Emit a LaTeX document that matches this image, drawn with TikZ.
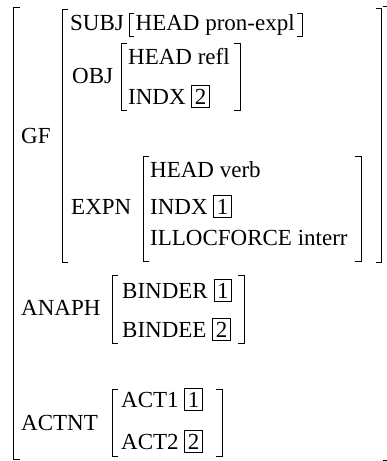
\documentclass[tikz,border=0pt]{standalone}
\usepackage{fontspec}
\setmainfont{Liberation Serif}
\newfontfamily\avmserif{Liberation Serif}
\newcommand\avmfont{\avmserif\fontsize{23}{27}\selectfont}
\setlength{\fboxsep}{2.6pt}
\setlength{\fboxrule}{0.9pt}
\tikzset{
  lbl/.style={anchor=base west, inner sep=0pt, font=\avmfont},
  brk/.style={line width=1pt, black}
}
\begin{document}
\begin{tikzpicture}[x=1pt,y=-1pt]
\useasboundingbox (0,0) rectangle (386,461);
% outer matrix
\draw[brk] (19.5,7) -| (13.5,459) -- (19.5,459);
\draw[brk] (382.5,6) -| (387.5,460) -- (382.5,460);
% GF
\node[lbl] (gf) at (21,143) {GF};
\draw[brk] (68,9) -| (62.5,262) -- (68,262);
\draw[brk] (376,8.5) -| (381.5,262) -- (376,262);
% SUBJ
\node[lbl] (subj) at (70,30) {SUBJ};
\draw[brk] (134,13) -| (129,36) -- (134,36);
\node[lbl] (subjhead) at (135.5,30) {HEAD pron-expl};
\draw[brk] (297,13) -| (302,36) -- (297,36);
% OBJ
\node[lbl] (obj) at (72,83) {OBJ};
\draw[brk] (127,43) -| (121,110) -- (127,110);
\node[lbl] (objhead) at (128,64) {HEAD refl};
\node[lbl] (objindx) at (128,104) {INDX \fbox{2}};
\draw[brk] (234,43) -| (240,110) -- (234,110);
% EXPN
\node[lbl] (expn) at (71,214) {EXPN};
\draw[brk] (149,156) -| (143,261) -- (149,261);
\node[lbl] (expnhead) at (150,177) {HEAD verb};
\node[lbl] (expnindx) at (150,214) {INDX \fbox{1}};
\node[lbl] (expnillo) at (150,245) {ILLOCFORCE interr};
\draw[brk] (355,156) -| (361,261) -- (355,261);
% ANAPH
\node[lbl] (anaph) at (21,315) {ANAPH};
\draw[brk] (118,275) -| (112,343) -- (118,343);
\node[lbl] (binder) at (122,298) {BINDER \fbox{1}};
\node[lbl] (bindee) at (122,337) {BINDEE \fbox{2}};
\draw[brk] (238,275) -| (244,343) -- (238,343);
% ACTNT
\node[lbl] (actnt) at (21,430) {ACTNT};
\draw[brk] (118,389) -| (112,456) -- (118,456);
\node[lbl] (act1) at (121,407) {ACT1 \fbox{1}};
\node[lbl] (act2) at (121,449) {ACT2 \fbox{2}};
\draw[brk] (216,389) -| (222,456) -- (216,456);
\end{tikzpicture}
\end{document}
